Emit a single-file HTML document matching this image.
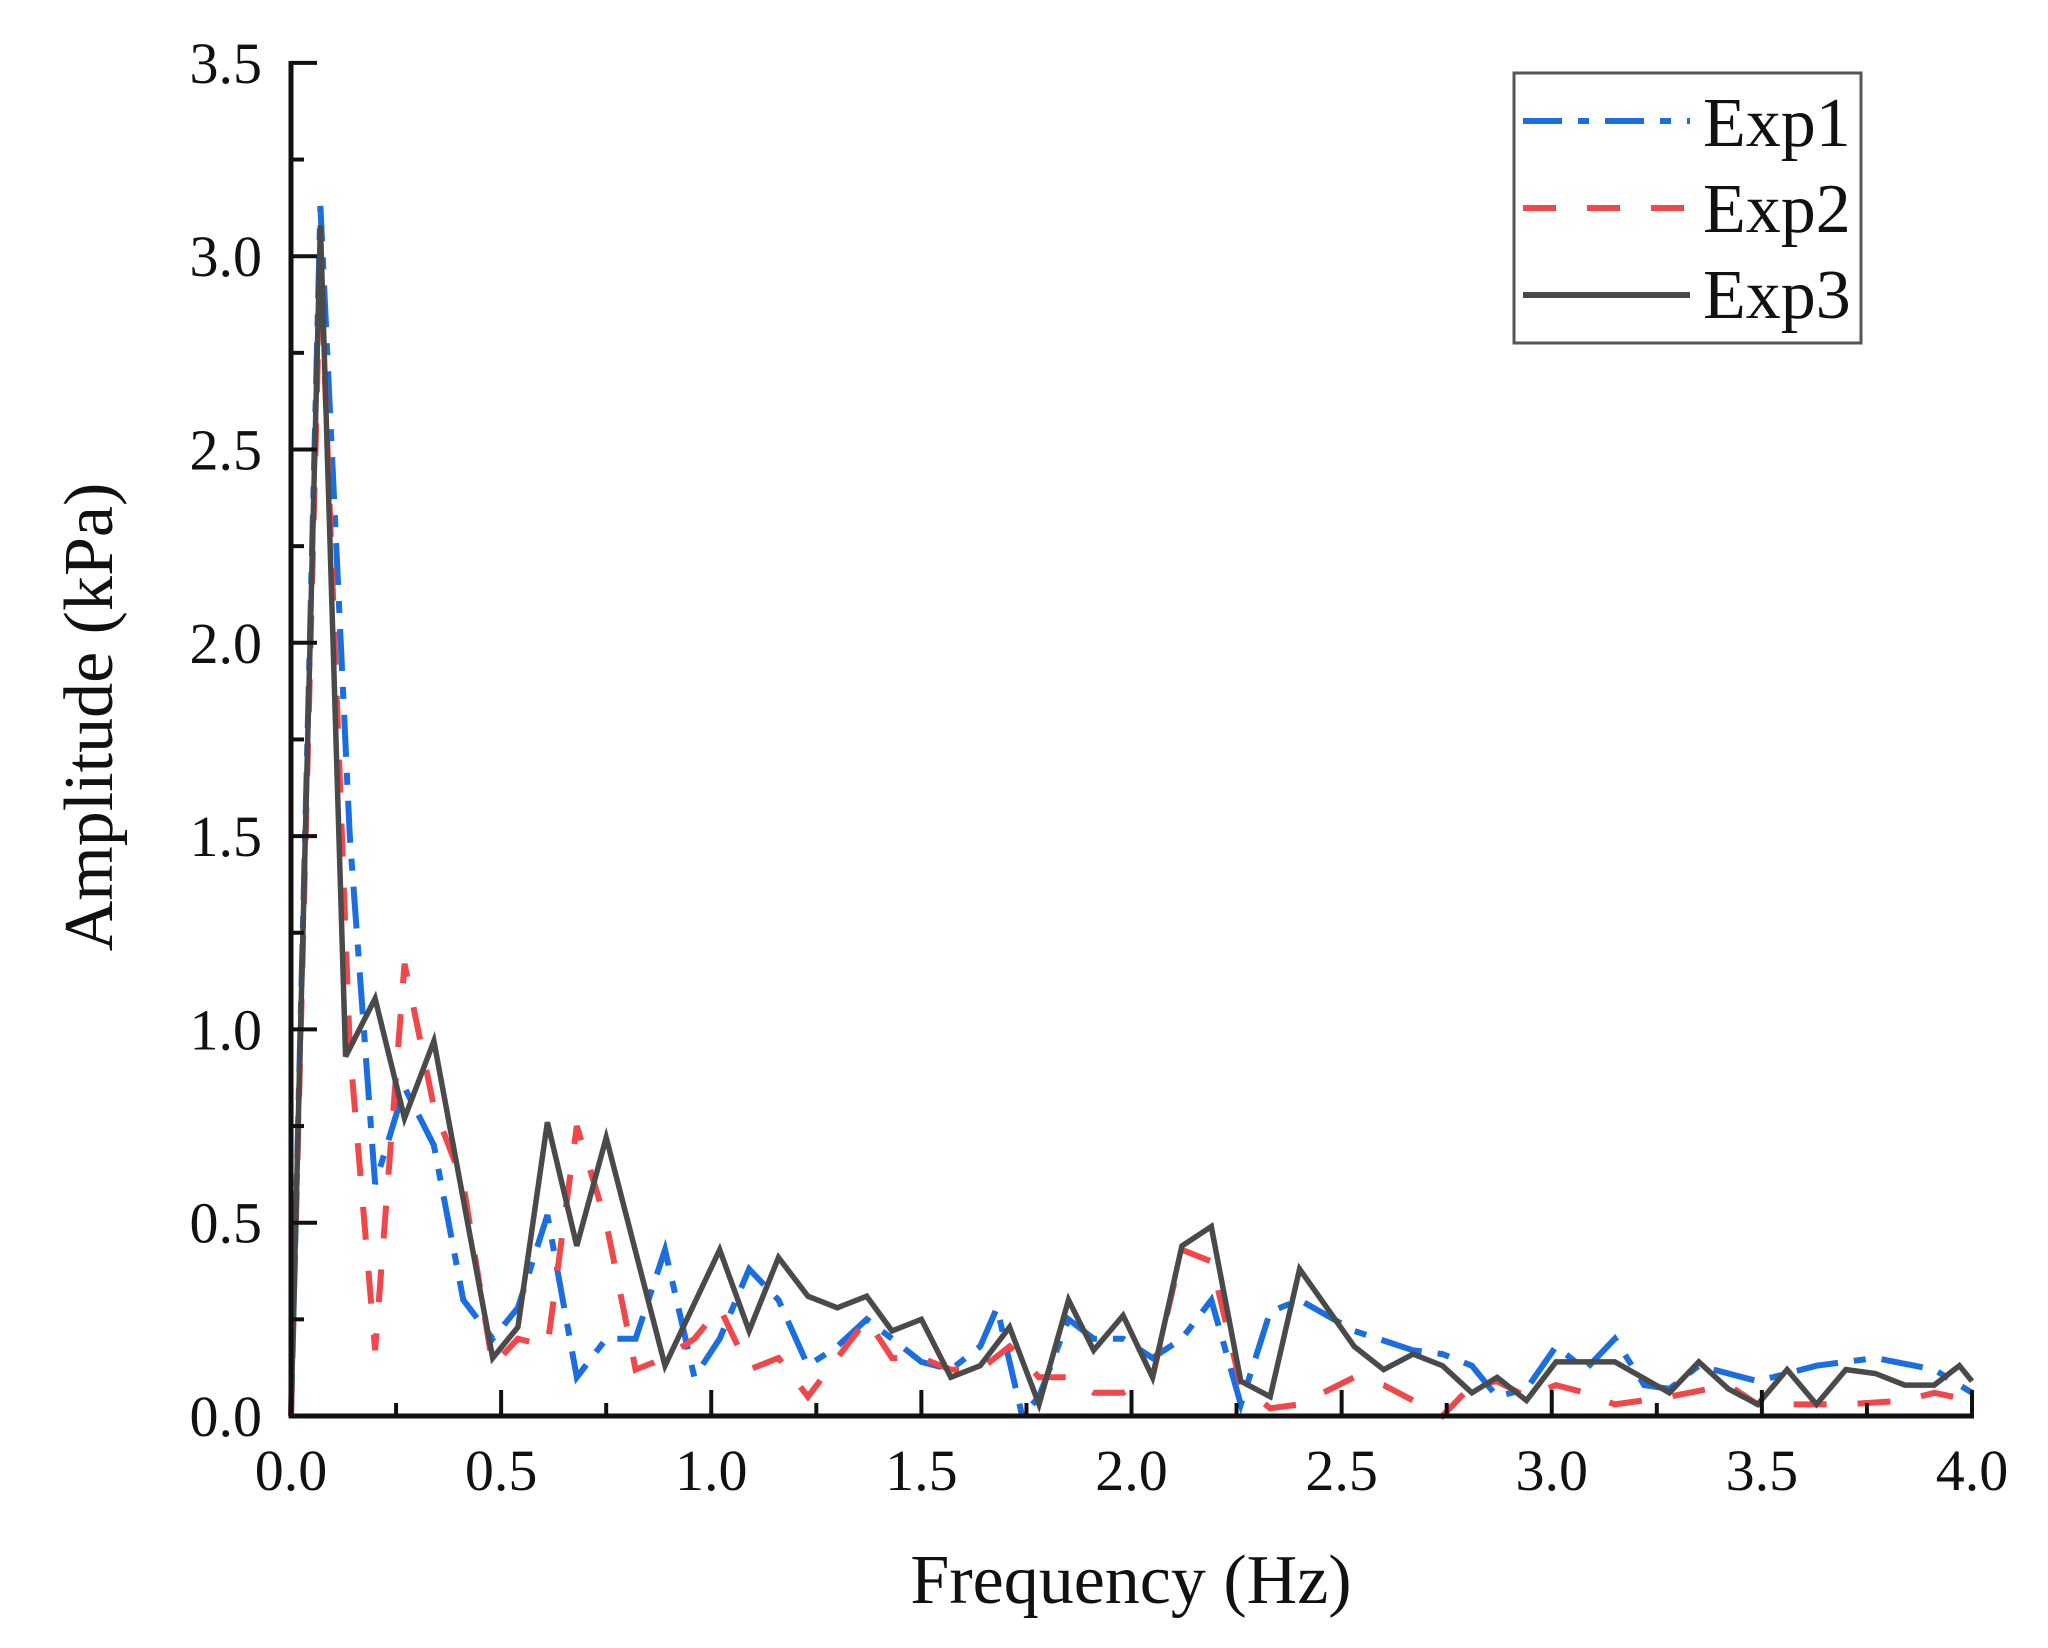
<!DOCTYPE html>
<html><head><meta charset="utf-8"><style>
html,body{margin:0;padding:0;background:#fff;}
svg{display:block;}
text{font-family:"Liberation Serif",serif;fill:#111;}
</style></head><body>
<svg id="s" width="2048" height="1648" viewBox="0 0 2048 1648" xmlns="http://www.w3.org/2000/svg">
<rect width="2048" height="1648" fill="#fff"/>
<g id="data"></g>
<g stroke="#111" stroke-width="5" fill="none">
<line x1="291" y1="61" x2="291" y2="1418"/>
<line x1="289" y1="1416" x2="1974" y2="1416"/>
</g>
<g id="ticks" stroke="#111" stroke-width="4"></g>
<g id="labels" font-size="58"></g>
<text x="1131" y="1603" font-size="70" text-anchor="middle">Frequency (Hz)</text>
<text transform="translate(112,717) rotate(-90)" font-size="70" text-anchor="middle">Amplitude (kPa)</text>
<rect x="1514" y="73" width="347" height="270" fill="#fff" stroke="#555" stroke-width="3"/>
<line x1="1523" y1="121" x2="1690" y2="121" stroke="#1a6ee0" stroke-width="6" stroke-dasharray="39 16 11 16"/>
<line x1="1523" y1="208" x2="1690" y2="208" stroke="#f0484a" stroke-width="6" stroke-dasharray="33 31"/>
<line x1="1523" y1="295" x2="1690" y2="295" stroke="#4a4a4a" stroke-width="6"/>
<text x="1703" y="146" font-size="70">Exp1</text>
<text x="1703" y="232" font-size="70">Exp2</text>
<text x="1703" y="318" font-size="70">Exp3</text>
</svg>
<script>
var X=function(f){return 291+f*420.25;}, Y=function(v){return 1416-v*386.6;};
var NS="http://www.w3.org/2000/svg";
function el(p,n,a){var e=document.createElementNS(NS,n);for(var k in a)e.setAttribute(k,a[k]);p.appendChild(e);return e;}
var ticks=document.getElementById('ticks'),labels=document.getElementById('labels');
for(var i=0;i<=14;i++){var v=i*0.25,y=Y(v),maj=i%2==0;
 el(ticks,'line',{x1:291,y1:y,x2:maj?317:304,y2:y});
 if(maj){var t=el(labels,'text',{x:262,y:y+20,'text-anchor':'end'});t.textContent=v.toFixed(1);}}
for(var i=0;i<=16;i++){var f=i*0.25,x=X(f),maj=i%2==0;
 el(ticks,'line',{x1:x,y1:1416,x2:x,y2:maj?1390:1403});
 if(maj){var t=el(labels,'text',{x:x,y:1490,'text-anchor':'middle'});t.textContent=f.toFixed(1);}}
var e1=[[0,0],[0.07,3.13],[0.14,1.5],[0.2,0.6],[0.27,0.85],[0.34,0.7],[0.41,0.3],[0.48,0.2],[0.54,0.28],[0.61,0.52],[0.68,0.1],[0.75,0.2],[0.82,0.2],[0.89,0.43],[0.96,0.1],[1.02,0.2],[1.09,0.38],[1.16,0.3],[1.23,0.13],[1.3,0.18],[1.37,0.25],[1.43,0.2],[1.5,0.14],[1.57,0.12],[1.64,0.18],[1.68,0.28],[1.74,0],[1.78,0.05],[1.85,0.25],[1.91,0.2],[1.98,0.2],[2.05,0.15],[2.12,0.2],[2.19,0.3],[2.26,0.03],[2.33,0.27],[2.4,0.3],[2.53,0.22],[2.67,0.17],[2.74,0.16],[2.81,0.13],[2.87,0.05],[2.94,0.07],[3.01,0.18],[3.08,0.12],[3.15,0.2],[3.22,0.08],[3.28,0.07],[3.35,0.13],[3.49,0.09],[3.63,0.13],[3.77,0.15],[3.91,0.12],[4.0,0.06]];
var e2=[[0,0],[0.07,3.0],[0.14,0.95],[0.2,0.17],[0.27,1.17],[0.34,0.8],[0.41,0.6],[0.48,0.13],[0.54,0.2],[0.61,0.18],[0.68,0.75],[0.75,0.5],[0.82,0.12],[0.89,0.15],[0.96,0.2],[1.02,0.28],[1.09,0.12],[1.16,0.15],[1.23,0.05],[1.37,0.25],[1.43,0.15],[1.5,0.15],[1.57,0.12],[1.64,0.12],[1.71,0.18],[1.78,0.1],[1.85,0.1],[1.91,0.06],[1.98,0.06],[2.05,0.1],[2.12,0.43],[2.19,0.4],[2.26,0.08],[2.33,0.02],[2.4,0.03],[2.53,0.1],[2.6,0.08],[2.67,0.04],[2.74,0.0],[2.81,0.08],[2.87,0.09],[2.94,0.05],[3.01,0.08],[3.08,0.06],[3.15,0.03],[3.28,0.05],[3.42,0.08],[3.49,0.03],[3.56,0.03],[3.7,0.03],[3.84,0.04],[3.91,0.06],[4.0,0.04]];
var e3=[[0,0],[0.07,3.08],[0.13,0.93],[0.2,1.08],[0.27,0.77],[0.34,0.97],[0.48,0.15],[0.54,0.23],[0.61,0.76],[0.68,0.44],[0.75,0.72],[0.89,0.13],[1.02,0.43],[1.09,0.22],[1.16,0.41],[1.23,0.31],[1.3,0.28],[1.37,0.31],[1.43,0.22],[1.5,0.25],[1.57,0.1],[1.64,0.13],[1.71,0.23],[1.78,0.03],[1.85,0.3],[1.91,0.17],[1.98,0.26],[2.05,0.1],[2.12,0.44],[2.19,0.49],[2.26,0.09],[2.33,0.05],[2.4,0.38],[2.53,0.18],[2.6,0.12],[2.67,0.16],[2.74,0.13],[2.81,0.06],[2.87,0.1],[2.94,0.04],[3.01,0.14],[3.08,0.14],[3.15,0.14],[3.28,0.06],[3.35,0.14],[3.42,0.07],[3.49,0.03],[3.56,0.12],[3.63,0.03],[3.7,0.12],[3.77,0.11],[3.84,0.08],[3.91,0.08],[3.97,0.13],[4.0,0.09]];
function pts(a){return a.map(function(p){return X(p[0]).toFixed(1)+','+Y(p[1]).toFixed(1);}).join(' ');}
var d=document.getElementById('data');
el(d,'polyline',{points:pts(e1),fill:'none',stroke:'#1a6ee0','stroke-width':6,'stroke-dasharray':'42 16 12 16'});
el(d,'polyline',{points:pts(e2),fill:'none',stroke:'#f0484a','stroke-width':6,'stroke-dasharray':'33 31'});
el(d,'polyline',{points:pts(e3),fill:'none',stroke:'#4a4a4a','stroke-width':5.5});
</script>
</body></html>
